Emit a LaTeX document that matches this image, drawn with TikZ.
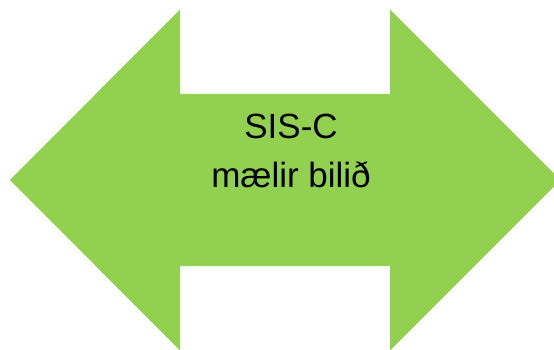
\documentclass[tikz,border=0pt]{standalone}
\usepackage{fontspec}
\setmainfont{Liberation Sans}
\definecolor{arrowgreen}{RGB}{146,208,80}
\tikzset{arrowbody/.style={fill=arrowgreen, draw=none}}
\begin{document}
\begin{tikzpicture}[x=1pt,y=-1pt]
    % frame of the picture
    \useasboundingbox (0,0) rectangle (554,350);
    \clip (0,0) rectangle (554,350);

    % double arrow
    \path[arrowbody] (10,180) -- (180,9.5) -- (180,94) -- (390,94) -- (390,9.5)
        -- (560.5,180) -- (390,350.5) -- (390,266) -- (180,266) -- (180,350.5) -- cycle;

    % label
    \node[align=center, font=\fontsize{35}{49}\selectfont, inner sep=0pt, anchor=base] (label) at (291,187) {
        SIS-C\\
        mælir bilið
    };
\end{tikzpicture}
\end{document}
